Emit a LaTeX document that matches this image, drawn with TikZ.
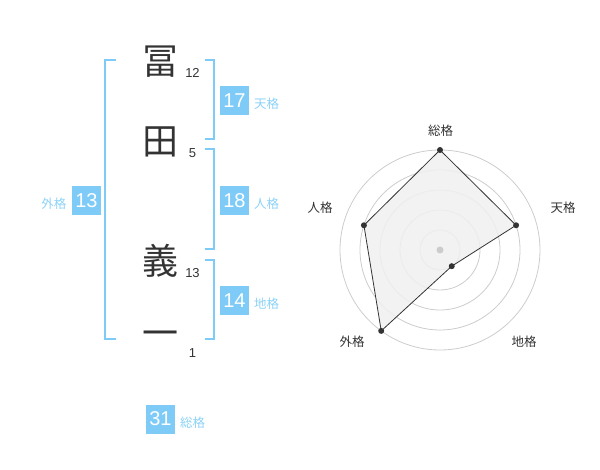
\documentclass[tikz,border=0pt]{standalone}
\usepackage{fontspec}
\setmainfont{Liberation Sans}
\newfontfamily\cjk{Noto Sans CJK JP}
\usetikzlibrary{calc}
\definecolor{skyb}{HTML}{7FCBF8}
\definecolor{lblb}{HTML}{8CD2F8}
\definecolor{dk}{HTML}{333333}
\definecolor{ring}{HTML}{CCCCCC}
\definecolor{polyf}{HTML}{F0F0F0}
\begin{document}
\begin{tikzpicture}[x=1pt,y=-1pt,
  kanji/.style={inner sep=0pt,font=\cjk\fontsize{36}{36}\selectfont,text=dk},
  strk/.style={inner sep=0pt,font=\fontsize{13}{13}\selectfont,text=dk},
  valbox/.style={fill=skyb,text=white,minimum width=29pt,minimum height=29pt,inner sep=0pt,font=\fontsize{20}{20}\selectfont},
  kakulbl/.style={inner sep=0pt,text=lblb,font=\cjk\fontsize{12.5}{12.5}\selectfont},
  brk/.style={draw=skyb,line width=2pt},
  radlbl/.style={inner sep=0pt,text=dk,font=\cjk\fontsize{12.5}{12.5}\selectfont},
  ringc/.style={draw=ring,line width=0.8pt},
  dotp/.style={circle,fill=dk,inner sep=0pt,minimum size=6pt}]
\useasboundingbox (0,0) rectangle (600,470);
% characters
\node[kanji] (c1) at (160,62) {冨};
\node[kanji] (c2) at (160,142) {田};
\node[kanji] (c3) at (160,261) {義};
\node[kanji] (c4) at (160,339) {一};
\node[strk] (n1) at (192.5,73) {12};
\node[strk] (n2) at (192.5,153) {5};
\node[strk] (n3) at (192.5,273) {13};
\node[strk] (n4) at (192.5,353) {1};
% brackets
\coordinate (gl1) at (115.7,60);
\coordinate (gl2) at (105,60);
\coordinate (gl3) at (105,339.3);
\coordinate (gl4) at (115.7,339.3);
\draw[brk] (gl1) -- (gl2) -- (gl3) -- (gl4);
\coordinate (t1) at (205,60);
\coordinate (t2) at (214.3,60);
\coordinate (t3) at (214.3,139.3);
\coordinate (t4) at (205,139.3);
\draw[brk] (t1) -- (t2) -- (t3) -- (t4);
\coordinate (j1) at (205,149.3);
\coordinate (j2) at (214.3,149.3);
\coordinate (j3) at (214.3,249.3);
\coordinate (j4) at (205,249.3);
\draw[brk] (j1) -- (j2) -- (j3) -- (j4);
\coordinate (k1) at (205,260);
\coordinate (k2) at (214.3,260);
\coordinate (k3) at (214.3,339.3);
\coordinate (k4) at (205,339.3);
\draw[brk] (k1) -- (k2) -- (k3) -- (k4);
% value boxes
\node[valbox] (b17) at (234.5,100.3) {17};
\node[kakulbl,anchor=west] (l17) at (254,104) {天格};
\node[valbox] (b18) at (234.5,200.3) {18};
\node[kakulbl,anchor=west] (l18) at (254,204) {人格};
\node[valbox] (b14) at (234.5,300.3) {14};
\node[kakulbl,anchor=west] (l14) at (254,304) {地格};
\node[valbox] (b13) at (86.5,200.3) {13};
\node[kakulbl,anchor=east] (l13) at (66.5,204) {外格};
\node[valbox] (b31) at (160.5,419) {31};
\node[kakulbl,anchor=west] (l31) at (180,423) {総格};
% radar
\coordinate (O) at (440,250);
\foreach \r in {20,40,60,80,100} \draw[ringc] (O) circle (\r);
\coordinate (pS) at ($(O)+(-90:100)$);
\coordinate (pT) at ($(O)+(-18:80)$);
\coordinate (pC) at ($(O)+(54:20)$);
\coordinate (pG) at ($(O)+(126:100)$);
\coordinate (pJ) at ($(O)+(-162:80)$);
\draw[dk,line width=0.8pt,fill=polyf,fill opacity=0.85] (pS) -- (pT) -- (pC) -- (pG) -- (pJ) -- cycle;
\fill[ring] (O) circle (3.5);
\foreach \p in {pS,pT,pC,pG,pJ} \node[dotp] (d\p) at (\p) {};
\node[radlbl] (rS) at (440.7,131) {総格};
\node[radlbl] (rT) at (563,208) {天格};
\node[radlbl] (rC) at (524,342) {地格};
\node[radlbl] (rG) at (352,342) {外格};
\node[radlbl] (rJ) at (320,208) {人格};
\end{tikzpicture}
\end{document}
